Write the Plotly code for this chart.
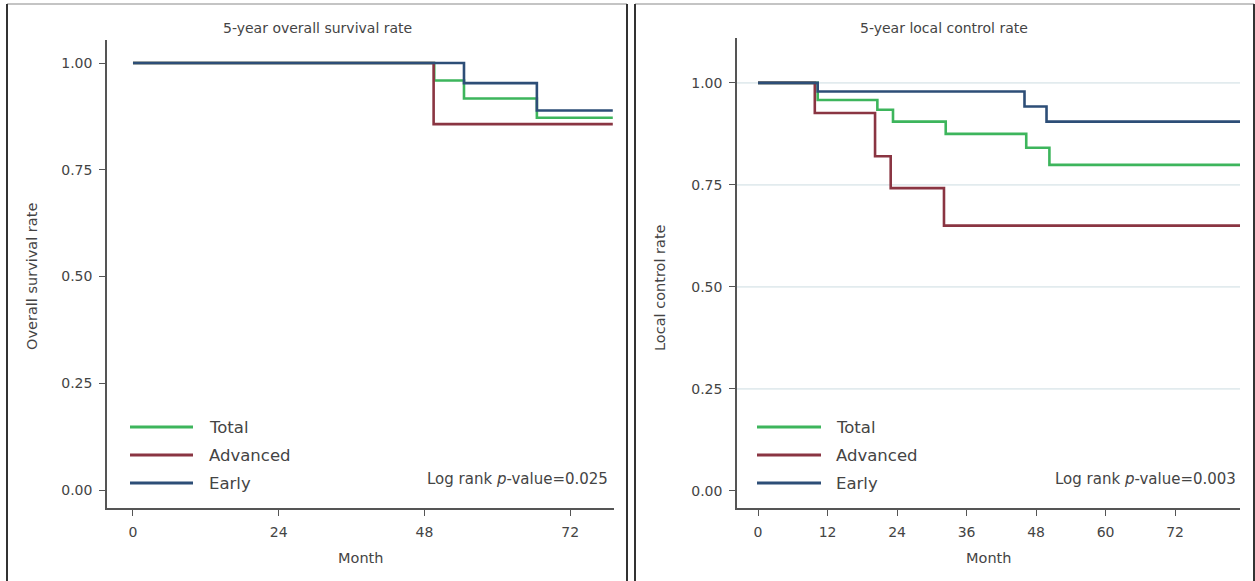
import plotly.graph_objects as go

# ---------------- data ----------------
os_total_t = [0, 49.6, 54.5, 66.5, 79.0]
os_total_s = [1.0, 0.959, 0.917, 0.872, 0.872]
os_adv_t = [0, 49.5, 79.0]
os_adv_s = [1.0, 0.857, 0.857]
os_early_t = [0, 54.5, 66.5, 79.0]
os_early_s = [1.0, 0.953, 0.889, 0.889]

lc_total_t = [0, 10.3, 20.6, 23.3, 32.4, 46.3, 50.3, 83.2]
lc_total_s = [1.0, 0.958, 0.934, 0.905, 0.875, 0.841, 0.799, 0.799]
lc_adv_t = [0, 9.8, 20.2, 22.9, 32.1, 83.2]
lc_adv_s = [1.0, 0.926, 0.820, 0.742, 0.650, 0.650]
lc_early_t = [0, 10.3, 46.0, 49.8, 83.2]
lc_early_s = [1.0, 0.979, 0.942, 0.905, 0.905]

series_names = ["Total", "Advanced", "Early"]
series_colors = ["#3db55c", "#8a3542", "#2d4e77"]

left_xticks = [0, 24, 48, 72]
right_xticks = [0, 12, 24, 36, 48, 60, 72]
yticks = [0, 0.25, 0.5, 0.75, 1.0]
ytick_text = ["0.00", "0.25", "0.50", "0.75", "1.00"]
right_grid = [0.25, 0.5, 0.75, 1.0]

left_title = "5-year overall survival rate"
right_title = "5-year local control rate"
left_ytitle = "Overall survival rate"
right_ytitle = "Local control rate"
left_p = "Log rank <i>p</i>-value=0.025"
right_p = "Log rank <i>p</i>-value=0.003"

W, H = 1255, 581
FONT = "DejaVu Sans"
TXT = "#444444"
AX = "#555555"


def px(x):
    return x / W


def py(y):
    return 1 - y / H


fig = go.Figure()

left = [(os_total_t, os_total_s), (os_adv_t, os_adv_s), (os_early_t, os_early_s)]
right = [(lc_total_t, lc_total_s), (lc_adv_t, lc_adv_s), (lc_early_t, lc_early_s)]

for (t, s), name, col in zip(left, series_names, series_colors):
    fig.add_trace(go.Scatter(x=t, y=s, mode="lines", line=dict(color=col, width=2.6, shape="hv"),
                             name=name, showlegend=False, xaxis="x", yaxis="y"))
for (t, s), name, col in zip(right, series_names, series_colors):
    fig.add_trace(go.Scatter(x=t, y=s, mode="lines", line=dict(color=col, width=2.6, shape="hv"),
                             name=name, showlegend=False, xaxis="x2", yaxis="y2"))

axis_common = dict(showline=True, linecolor=AX, linewidth=1.5, ticks="outside", ticklen=6,
                   tickcolor=AX, tickwidth=1.2, showgrid=False, zeroline=False,
                   tickfont=dict(family=FONT, size=14, color=TXT), ticklabelstandoff=4)

fig.update_layout(
    width=W, height=H, margin=dict(l=0, r=0, t=0, b=0),
    paper_bgcolor="white", plot_bgcolor="white",
    xaxis=dict(domain=[px(107), px(614)], range=[-4.28, 79.2], tickvals=left_xticks,
               anchor="y", **axis_common),
    yaxis=dict(domain=[py(508), py(40)], range=[-0.042, 1.054], tickvals=yticks,
               ticktext=ytick_text, anchor="x", **axis_common),
    xaxis2=dict(domain=[px(737), px(1240)], range=[-3.63, 83.2], tickvals=right_xticks,
                anchor="y2", **axis_common),
    yaxis2=dict(domain=[py(508), py(38)], range=[-0.042, 1.11], tickvals=yticks,
                ticktext=ytick_text, anchor="x2", **axis_common),
)

shapes = []
# right-panel grid lines
for g in right_grid:
    shapes.append(dict(type="line", xref="x2 domain", yref="y2", x0=0, x1=1, y0=g, y1=g,
                       line=dict(color="#e2ebee", width=1.6), layer="below"))
# panel frames
for x0, x1 in [(7, 627), (635, 1254)]:
    shapes.append(dict(type="line", xref="paper", yref="paper", x0=px(x0), x1=px(x1), y0=py(4), y1=py(4),
                       line=dict(color="#b0b0b0", width=1.5)))
    for xx in (x0, x1):
        shapes.append(dict(type="line", xref="paper", yref="paper", x0=px(xx), x1=px(xx), y0=py(4), y1=-0.02,
                           line=dict(color="#333333", width=2)))

annotations = []
# legends
for lx0, lx1, tx in [(130, 193, 207), (757, 821, 834)]:
    for i, (name, col) in enumerate(zip(series_names, series_colors)):
        yy = 427 + 28 * i
        shapes.append(dict(type="line", xref="paper", yref="paper", x0=px(lx0), x1=px(lx1),
                           y0=py(yy), y1=py(yy), line=dict(color=col, width=3)))
        annotations.append(dict(xref="paper", yref="paper", x=px(tx), y=py(yy), text=name,
                                showarrow=False, xanchor="left", yanchor="middle",
                                font=dict(family=FONT, size=16.5, color=TXT)))

# titles
for x, txt in [(317, left_title), (944, right_title)]:
    annotations.append(dict(xref="paper", yref="paper", x=px(x), y=py(28), text=txt, showarrow=False,
                            xanchor="center", yanchor="middle", font=dict(family=FONT, size=14, color=TXT)))
# x titles
for x in (360, 988):
    annotations.append(dict(xref="paper", yref="paper", x=px(x), y=py(558), text="Month", showarrow=False,
                            xanchor="center", yanchor="middle", font=dict(family=FONT, size=14.5, color=TXT)))
# y titles
for x, y, txt in [(32, 277, left_ytitle), (660, 288, right_ytitle)]:
    annotations.append(dict(xref="paper", yref="paper", x=px(x), y=py(y), text=txt, showarrow=False,
                            textangle=-90, xanchor="center", yanchor="middle",
                            font=dict(family=FONT, size=14.5, color=TXT)))
# p-values
for x, txt in [(610, left_p), (1238, right_p)]:
    annotations.append(dict(xref="paper", yref="paper", x=px(x), y=py(479), text=txt, showarrow=False,
                            xanchor="right", yanchor="middle", font=dict(family=FONT, size=15, color=TXT)))

fig.update_layout(shapes=shapes, annotations=annotations)
fig.write_html("out.html", config={"displayModeBar": False},
               post_script="document.body.style.margin='0';document.body.style.overflow='hidden';")
